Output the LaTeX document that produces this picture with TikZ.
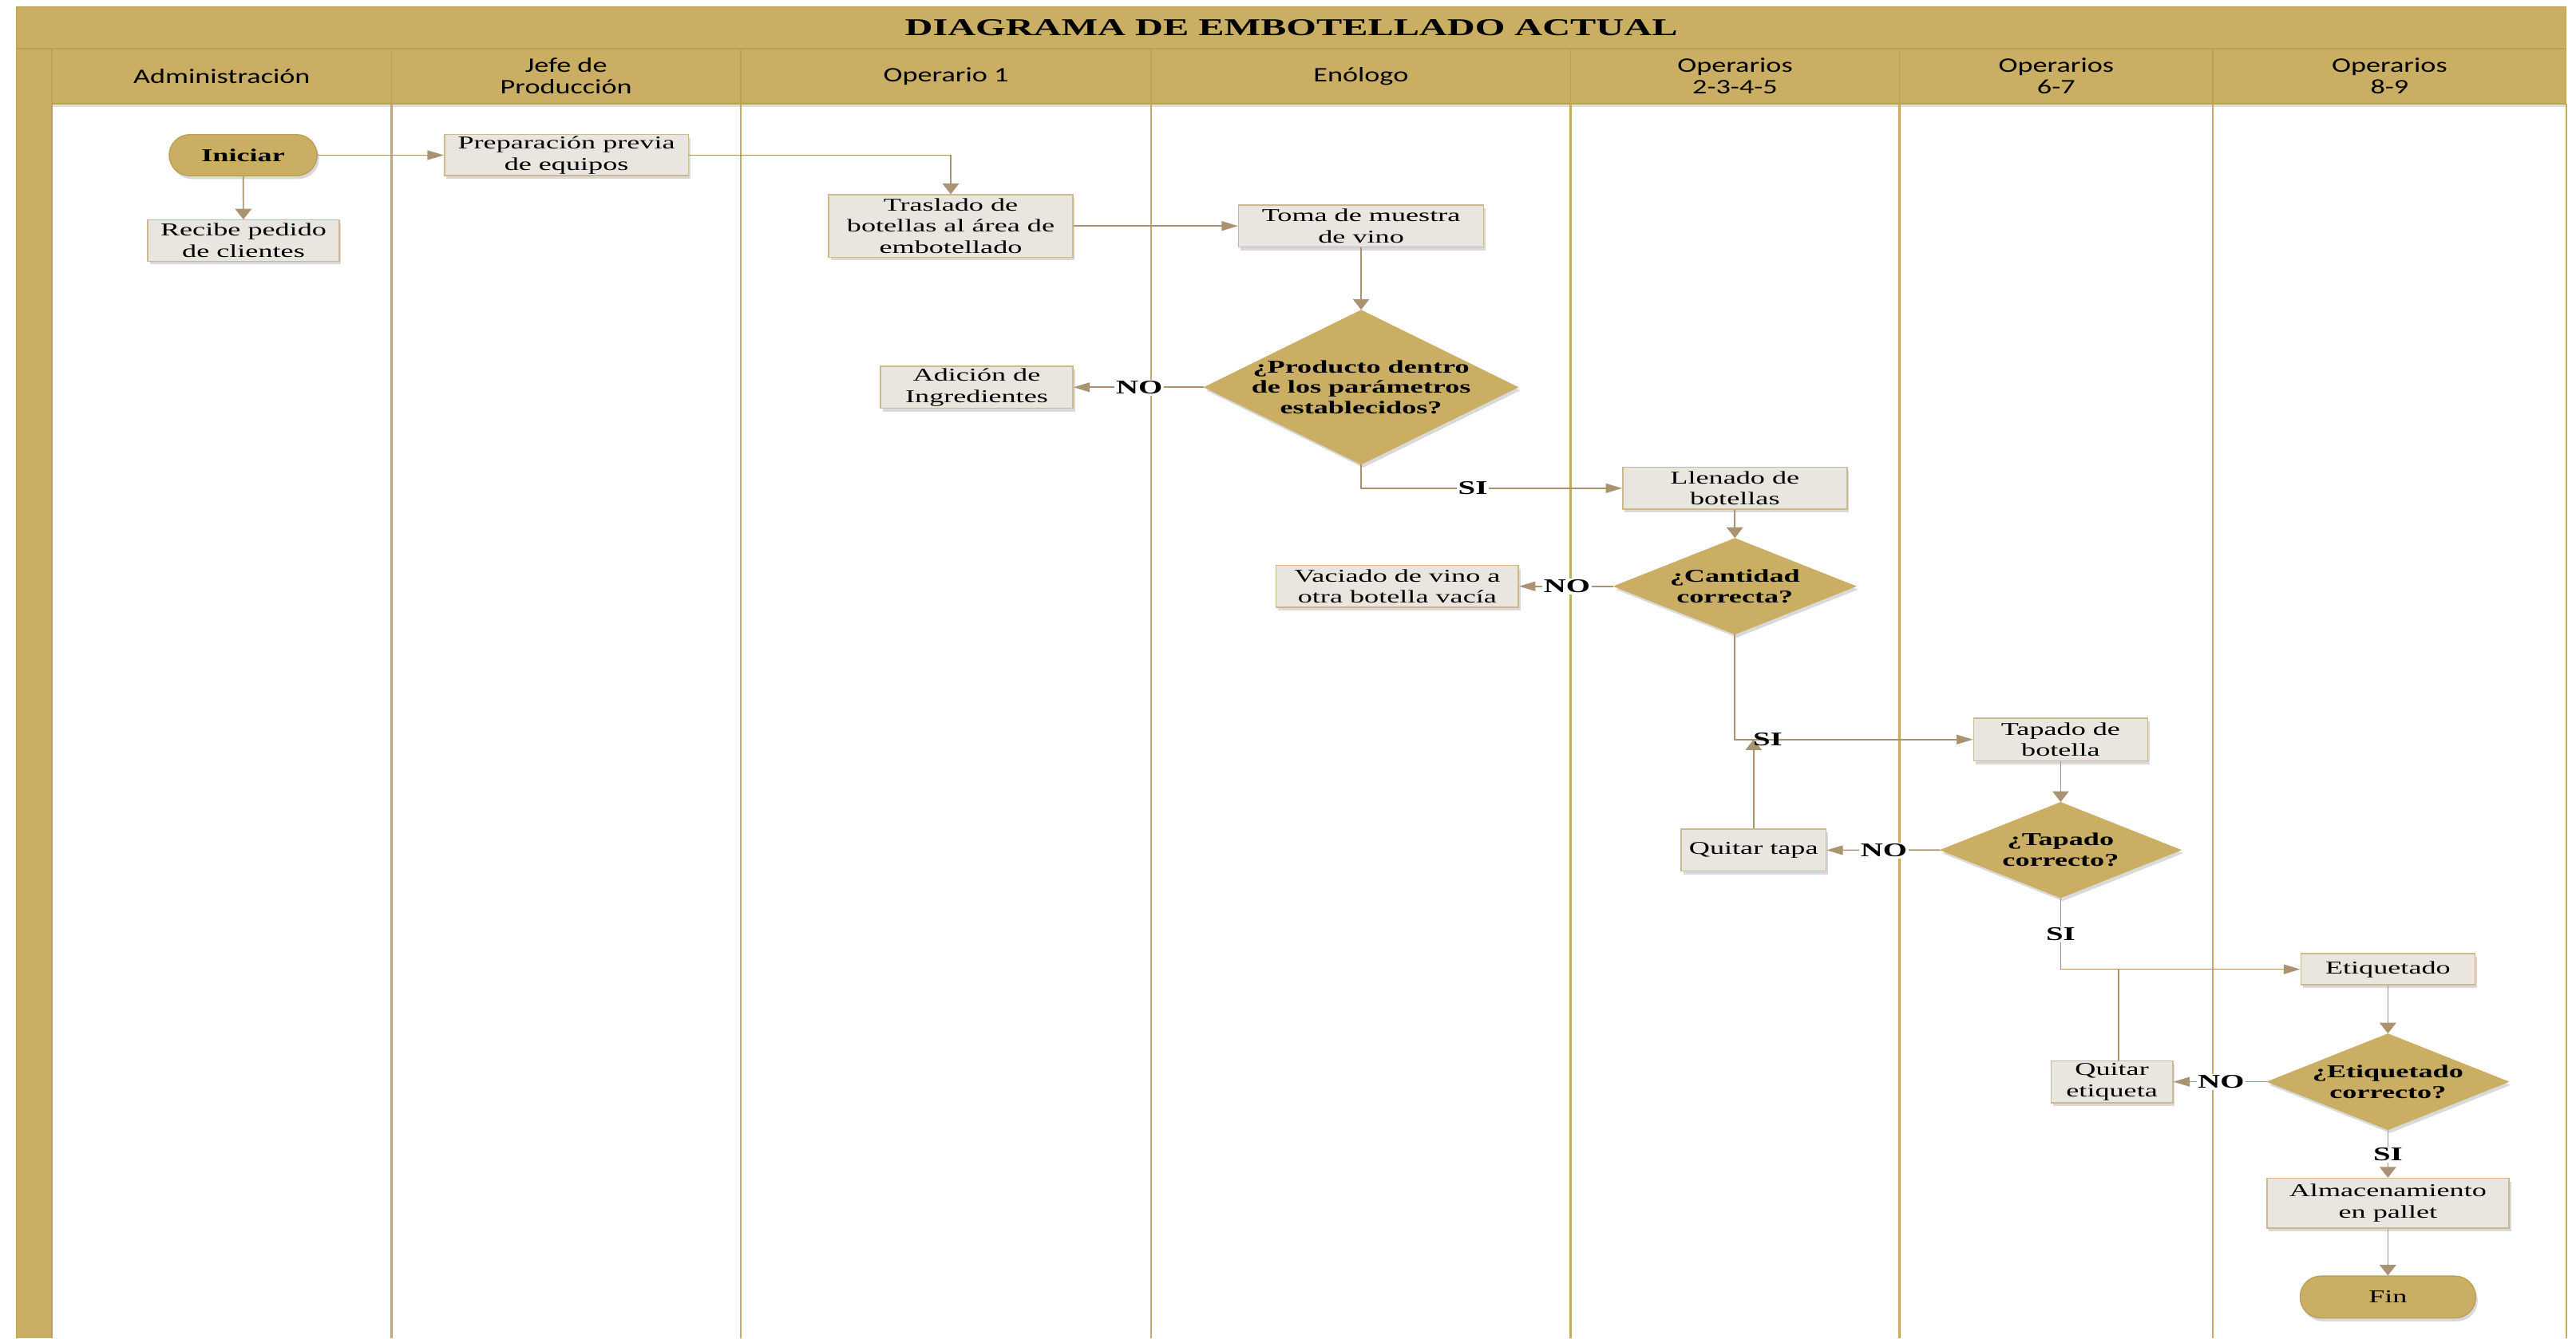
\documentclass[tikz,border=0pt]{standalone}
\usepackage{fontspec}
\setmainfont{Liberation Serif}[FakeStretch=1.6]
\newfontfamily\hdrfont{Carlito}[FakeStretch=1.4]
\usetikzlibrary{arrows.meta,shadows,shapes.geometric}
\definecolor{gold}{HTML}{C9AE63}
\definecolor{golddark}{HTML}{BBA056}
\definecolor{boxfill}{HTML}{E9E6DF}
\definecolor{boxline}{HTML}{CDB88F}
\definecolor{arrowc}{HTML}{A99370}
\definecolor{lanec}{HTML}{C6AA60}
\tikzset{
  shad/.style={drop shadow={shadow xshift=0.05cm, shadow yshift=-0.08cm, opacity=0.25, fill=black!60}},
  box/.style={draw=boxline, line width=0.8pt, fill=boxfill, align=center, inner sep=0pt,
    font=\fontsize{12.5}{14.8}\selectfont, shad},
  term/.style={draw=golddark, line width=0.8pt, fill=gold, rounded corners=0.5cm, align=center,
    inner sep=0pt, font=\fontsize{12.5}{14.8}\selectfont, shad},
  dia/.style={diamond, draw=gold, fill=gold, inner sep=0pt, shad},
  dtext/.style={align=center, font=\fontsize{12.5}{14.3}\selectfont\bfseries, inner sep=0pt},
  conn/.style={draw=arrowc, line width=0.9pt},
  harr/.style={conn, -{Triangle[length=0.4cm,width=0.23cm]}},
  varr/.style={conn, -{Triangle[length=0.26cm,width=0.4cm]}},
  lbl/.style={fill=white, inner sep=1pt, font=\fontsize{13.4}{14}\selectfont\bfseries},
  hdr/.style={align=center, font=\hdrfont\fontsize{14.3}{14.8}\selectfont, inner sep=0pt},
  lane/.style={draw=lanec, line width=1.3pt},
  hline/.style={draw=golddark, line width=0.8pt},
}
\begin{document}
\begin{tikzpicture}[x=0.04cm,y=-0.04cm]
\useasboundingbox (0,0) rectangle (1568,815);
% frame
\fill[gold, drop shadow={shadow xshift=0cm, shadow yshift=-0.08cm, opacity=0.25, fill=black!50}] (10,4) rectangle (1562,63.2);
\fill[gold] (10,29.6) rectangle (31.6,815);
\draw[hline] (10,815) -- (10,4) -- (1562,4) -- (1562,63.2);
\draw[hline] (10,29.6) -- (1562,29.6);
\draw[hline] (31.6,29.6) -- (31.6,815);
\draw[hline] (31.6,63.2) -- (1562,63.2);
\foreach \x in {238.3,450.9,700.7,956,1156.2,1347} {
  \draw[hline] (\x,29.6) -- (\x,63.2);
  \draw[lane] (\x,63.2) -- (\x,815);
}
\draw[lane] (1562,63.2) -- (1562,815);
% title and headers
\node[font=\fontsize{16.7}{20}\selectfont\bfseries, inner sep=0pt] (title) at (786,16.8) {DIAGRAMA DE EMBOTELLADO ACTUAL};
\node[hdr] (h1) at (135,46.4) {Administración};
\node[hdr] (h2) at (344.6,46.4) {Jefe de\\Producción};
\node[hdr] (h3) at (575.8,46.4) {Operario 1};
\node[hdr] (h4) at (828.4,46.4) {Enólogo};
\node[hdr] (h5) at (1056.1,46.4) {Operarios\\2-3-4-5};
\node[hdr] (h6) at (1251.6,46.4) {Operarios\\6-7};
\node[hdr] (h7) at (1454.5,46.4) {Operarios\\8-9};
% nodes
\node[term, minimum width=3.6cm, minimum height=1cm, font=\fontsize{12.5}{14.8}\selectfont\bfseries] (ini) at (148,94.5) {Iniciar};
\node[box, minimum width=4.66cm, minimum height=1cm] (rec) at (148.2,146.5) {Recibe pedido\\de clientes};
\node[box, minimum width=5.94cm, minimum height=1cm] (prep) at (344.8,94.5) {Preparación previa\\de equipos};
\node[box, minimum width=5.94cm, minimum height=1.52cm] (tras) at (578.7,137.6) {Traslado de\\botellas al área de\\embotellado};
\node[box, minimum width=5.96cm, minimum height=1.02cm] (toma) at (828.5,137.6) {Toma de muestra\\de vino};
\node[dia, minimum width=7.64cm, minimum height=3.76cm] (d1) at (828.5,235.8) {};
\node[dtext] (d1t) at (d1) {¿Producto dentro\\de los parámetros\\establecidos?};
\node[box, minimum width=4.68cm, minimum height=1.02cm] (adi) at (594.5,235.8) {Adición de\\Ingredientes};
\node[box, minimum width=5.46cm, minimum height=1.02cm] (llen) at (1056,297.3) {Llenado de\\botellas};
\node[dia, minimum width=5.9cm, minimum height=2.34cm] (d2) at (1056,357) {};
\node[dtext] (d2t) at (d2) {¿Cantidad\\correcta?};
\node[box, minimum width=5.9cm, minimum height=1.02cm] (vac) at (850.5,357) {Vaciado de vino a\\otra botella vacía};
\node[box, minimum width=4.24cm, minimum height=1.04cm] (tap) at (1254.3,450.3) {Tapado de\\botella};
\node[dia, minimum width=5.86cm, minimum height=2.33cm] (d3) at (1254.3,517.6) {};
\node[dtext] (d3t) at (d3) {¿Tapado\\correcto?};
\node[box, minimum width=3.52cm, minimum height=1.02cm] (qt) at (1067.4,517.7) {Quitar tapa};
\node[box, minimum width=4.24cm, minimum height=0.76cm] (eti) at (1453.5,590.2) {Etiquetado};
\node[dia, minimum width=5.88cm, minimum height=2.34cm] (d4) at (1453.5,658.7) {};
\node[dtext] (d4t) at (d4) {¿Etiquetado\\correcto?};
\node[box, minimum width=2.96cm, minimum height=1.02cm] (qe) at (1285.5,658.7) {Quitar\\etiqueta};
\node[box, minimum width=5.89cm, minimum height=1.21cm] (alm) at (1453.5,732.6) {Almacenamiento\\en pallet};
\node[term, minimum width=4.27cm, minimum height=1.02cm] (fin) at (1453.5,789.8) {Fin};
% connectors
\draw[harr] (ini) -- (prep);
\draw[varr] (ini) -- (rec);
\draw[varr] (prep.east) -| (tras.north);
\draw[harr] (tras) -- (toma);
\draw[varr] (toma) -- (d1);
\draw[harr] (d1.west) -- (adi.east);
\draw[harr] (d1.south) |- (llen.west);
\draw[varr] (llen) -- (d2);
\draw[harr] (d2.west) -- (vac.east);
\draw[harr] (d2.south) |- (tap.west);
\draw[varr] (qt.north) -- (qt.north |- tap.west);
\draw[varr] (tap) -- (d3);
\draw[harr] (d3.west) -- (qt.east);
\draw[harr] (d3.south) |- (eti.west);
\draw[varr] (eti) -- (d4);
\draw[harr] (d4.west) -- (qe.east);
\draw[conn] ([xshift=0.16cm]qe.north) -- ([xshift=0.16cm]qe.north |- eti.west);
\draw[varr] (d4.south) -- (alm);
\draw[varr] (alm) -- (fin);
% labels
\node[lbl] (no1) at (693.5,236) {NO};
\node[lbl] (si1) at (896.5,297.3) {SI};
\node[lbl] (no2) at (953.8,357) {NO};
\node[lbl, fill=none] (si2) at (1076,450.3) {SI};
\node[lbl] (no3) at (1146.7,517.8) {NO};
\node[lbl] (si3) at (1254.3,568.8) {SI};
\node[lbl] (no4) at (1352,658.9) {NO};
\node[lbl] (si4) at (1453.5,703) {SI};
\end{tikzpicture}
\end{document}
